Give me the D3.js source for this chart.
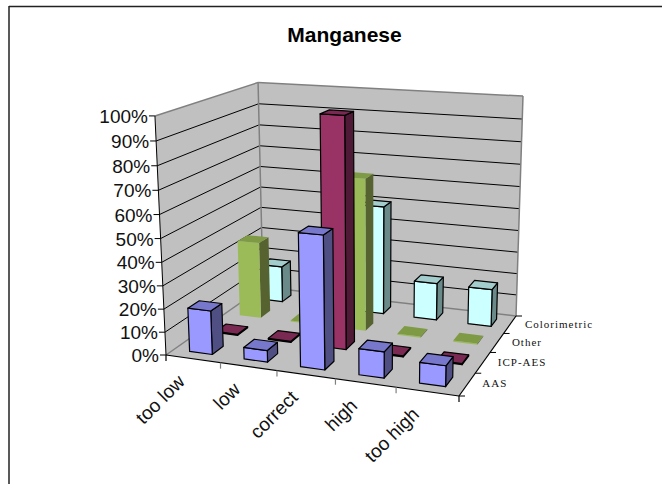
<!DOCTYPE html>
<html><head><meta charset="utf-8">
<script src="https://cdn.jsdelivr.net/npm/d3@7"></script>
<style>html,body{margin:0;padding:0;background:#fff}svg{display:block}</style></head>
<body><svg id="c" width="662" height="484"></svg>
<script>
const title = "Manganese";
const categories = ["too low","low","correct","high","too high"];
const seriesNames = ["AAS","ICP-AES","Other","Colorimetric"];
const aas = [19,5,56,11,8.6];
const icp = [0.5,0.5,99,0.5,0.5];
const other = [35,0.5,68,0.5,0.5];
const colorimetric = [17,0,50,17,17];
const zTicks = [0,10,20,30,40,50,60,70,80,90,100];
const seriesValues = [aas,icp,other,colorimetric];
const colors = [
 {front:"#9999ff",side:"#4f4f84",top:"#7777cc",stroke:"#000"},
 {front:"#993366",side:"#4f1a35",top:"#7a2952",stroke:"#000"},
 {front:"#9bbb59",side:"#566331",top:"#7e9a45",stroke:"none"},
 {front:"#ccffff",side:"#6a8a8a",top:"#a3cccc",stroke:"#000"}];

function homography(src,dst){
  const A=[];
  src.forEach((s,i)=>{const [x,y]=s,[u,v]=dst[i];
    A.push([x,y,1,0,0,0,-u*x,-u*y,u]);
    A.push([0,0,0,x,y,1,-v*x,-v*y,v]);});
  for(let i=0;i<8;i++){let p=i;for(let r=i;r<8;r++)if(Math.abs(A[r][i])>Math.abs(A[p][i]))p=r;
    [A[i],A[p]]=[A[p],A[i]];
    for(let r=0;r<8;r++)if(r!==i){const f=A[r][i]/A[i][i];for(let c=i;c<9;c++)A[r][c]-=f*A[i][c];}}
  const h=A.map((r,i)=>r[8]/r[i]);
  return [[h[0],h[1],h[2]],[h[3],h[4],h[5]],[h[6],h[7],1]];
}
const floorFL=[166,355],floorFR=[459,396],floorBR=[516,316],floorBL=[263,287];
const H=homography([[0,0],[1,0],[1,1],[0,1]],[floorFL,floorFR,floorBR,floorBL]);
const V=[372.6,4826];
const BLtop=82.5;
const w11=H[2][1]+H[2][2], y11=H[1][1]+H[1][2];
const lambda=(y11-BLtop*w11)/(BLtop-V[1]);
function proj(u,v,t){
  const w=H[2][0]*u+H[2][1]*v+H[2][2]+lambda*t;
  return [(H[0][0]*u+H[0][1]*v+H[0][2]+lambda*V[0]*t)/w,
          (H[1][0]*u+H[1][1]*v+H[1][2]+lambda*V[1]*t)/w];
}
const xS=d3.scaleBand().domain(categories).range([0,1]);
const yS=d3.scaleBand().domain(seriesNames).range([0,1]);
const zS=d3.scaleLinear().domain([0,100]).range([0,1]);
const svg=d3.select("#c");
const line=pts=>"M"+pts.map(p=>p[0].toFixed(2)+","+p[1].toFixed(2)).join("L")+"Z";
const seg=(g,a,b,col,w)=>g.append("line").attr("x1",a[0]).attr("y1",a[1]).attr("x2",b[0]).attr("y2",b[1]).attr("stroke",col).attr("stroke-width",w);

svg.append("line").attr("x1",9).attr("y1",6.5).attr("x2",662).attr("y2",6.5).attr("stroke","#222").attr("stroke-width",1.5);
svg.append("line").attr("x1",9).attr("y1",6).attr("x2",9).attr("y2",484).attr("stroke","#222").attr("stroke-width",1.5);
svg.append("text").attr("x",344.5).attr("y",42).attr("text-anchor","middle")
  .attr("font-family","Liberation Sans").attr("font-weight","bold").attr("font-size",21).attr("fill","#000").text(title);

const g=svg.append("g");
const wallTop=zS(100);
g.append("path").attr("d",line([proj(0,0,0),proj(0,1,0),proj(1,1,0),proj(1,0,0)])).attr("fill","#c0c0c0");
g.append("path").attr("d",line([proj(0,0,0),proj(0,0,wallTop),proj(0,1,wallTop),proj(0,1,0)])).attr("fill","#c0c0c0");
g.append("path").attr("d",line([proj(0,1,0),proj(0,1,wallTop),proj(1,1,wallTop),proj(1,1,0)])).attr("fill","#c0c0c0");
zTicks.forEach(t=>{
  const z=zS(t);
  if(t>0&&t<100){ seg(g,proj(0,0,z),proj(0,1,z),"#000",1); seg(g,proj(0,1,z),proj(1,1,z),"#000",1);}
  const a=proj(0,0,z);
  seg(g,[a[0]-6,a[1]],a,"#000",1);
  g.append("text").attr("x",a[0]-7).attr("y",a[1]+7).attr("text-anchor","end")
    .attr("font-family","Liberation Sans").attr("font-size",19).attr("fill","#111").text(t+"%");
});
[[proj(0,0,0),proj(0,1,0)],[proj(0,1,0),proj(1,1,0)],[proj(0,1,0),proj(0,1,wallTop)],
 [proj(0,0,wallTop),proj(0,1,wallTop)],[proj(0,1,wallTop),proj(1,1,wallTop)],[proj(1,1,0),proj(1,1,wallTop)]]
 .forEach(([a,b])=>seg(g,a,b,"#808080",1.5));
seg(g,proj(0,0,0),proj(0,0,wallTop),"#000",1);

const bw=xS.bandwidth()*0.42, bd=yS.bandwidth()*0.42;
for(let s=seriesNames.length-1;s>=0;s--){
  const c=colors[s];
  categories.forEach((cat,i)=>{
    const val=seriesValues[s][i]; if(!val) return;
    const u0=xS(cat)+(xS.bandwidth()-bw)/2,u1=u0+bw;
    const v0=yS(seriesNames[s])+(yS.bandwidth()-bd)/2,v1=v0+bd;
    const z=zS(val);
    const st=p=>p.attr("stroke",c.stroke).attr("stroke-width",1.2).attr("stroke-linejoin","round");
    st(g.append("path").attr("d",line([proj(u1,v0,0),proj(u1,v1,0),proj(u1,v1,z),proj(u1,v0,z)])).attr("fill",c.side));
    st(g.append("path").attr("d",line([proj(u0,v0,0),proj(u1,v0,0),proj(u1,v0,z),proj(u0,v0,z)])).attr("fill",c.front));
    st(g.append("path").attr("d",line([proj(u0,v0,z),proj(u1,v0,z),proj(u1,v1,z),proj(u0,v1,z)])).attr("fill",c.top));
  });
}
seg(g,proj(0,0,0),proj(1,0,0),"#000",1.2);
seg(g,proj(1,0,0),proj(1,1,0),"#000",1.2);
[0,1,2,3,4,5].forEach(k=>{const p=proj(k/5,0,0);seg(g,p,[p[0],p[1]+6],k===0||k===5?"#000":"#808080",1.2);});
[0,1,2,3,4].forEach(k=>{const p=proj(1,k/4,0);seg(g,p,[p[0]+6,p[1]],"#000",1);});
categories.forEach((cat,i)=>{
  const p=proj((i+0.5)/5,0,0);
  g.append("text").attr("transform",`translate(${p[0]-7},${p[1]+24}) rotate(-45)`).attr("text-anchor","end")
   .attr("font-family","Liberation Sans").attr("font-size",19).attr("fill","#111").text(cat);
});
seriesNames.forEach((n,i)=>{
  const p=proj(1,(i+0.5)/4,0);
  g.append("text").attr("x",p[0]+15).attr("y",p[1]+3).attr("font-family","Liberation Serif").attr("font-size",11)
   .attr("letter-spacing",1).attr("fill","#111").text(n);
});
</script></body></html>
